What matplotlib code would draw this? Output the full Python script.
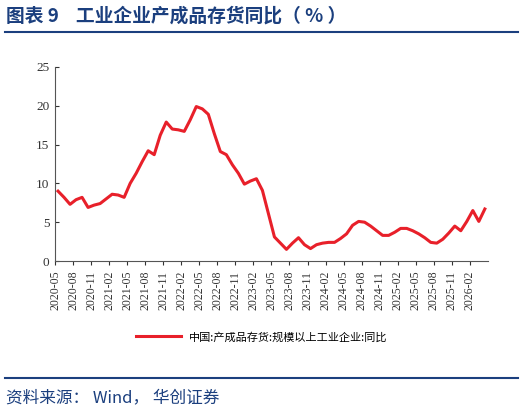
import matplotlib.pyplot as plt
import numpy as np

plt.rcParams['font.family'] = ['Noto Sans CJK SC', 'DejaVu Sans']

# 中国:产成品存货:规模以上工业企业:同比, monthly from 2020-05
values = [9.0, 8.2, 7.3, 7.9, 8.2, 6.9, 7.2, 7.4, 8.0, 8.6, 8.5, 8.2,
          10.0, 11.3, 12.8, 14.2, 13.7, 16.2, 17.9, 17.0, 16.9, 16.7, 18.2, 19.9,
          19.6, 18.9, 16.4, 14.1, 13.7, 12.4, 11.3, 9.9, 10.3, 10.6, 9.1, 6.1,
          3.1, 2.3, 1.5, 2.3, 3.0, 2.1, 1.6, 2.1, 2.3, 2.4, 2.4, 2.9,
          3.5, 4.6, 5.1, 5.0, 4.5, 3.9, 3.3, 3.3, 3.7, 4.2, 4.2, 3.9,
          3.5, 3.0, 2.4, 2.3, 2.8, 3.6, 4.5, 3.9, 5.1, 6.5, 5.1, 6.7]
months = [f"{2020 + (4 + i) // 12}-{(4 + i) % 12 + 1:02d}" for i in range(len(values))]

blue = '#1b3f7e'
fig = plt.figure(figsize=(5.24, 4.12), dpi=100)
ax = fig.add_axes([0.105, 0.3665, 0.826, 0.471])
x = np.arange(len(values))
line, = ax.plot(x, values, color='#e8202a', lw=2.2, label='中国:产成品存货:规模以上工业企业:同比')

ax.set_xlim(-0.5, len(values) - 0.5)
ax.set_ylim(0, 25)
ax.set_yticks(range(0, 26, 5))
ticks = x[::3]
ax.set_xticks(ticks - 0.5)
ax.set_xticklabels([months[i] for i in ticks], rotation=90, fontsize=8.5,
                   family=['Liberation Serif'])
for lab in ax.get_yticklabels():
    lab.set_fontsize(9.5)
    lab.set_family(['Liberation Serif'])
ax.tick_params(direction='in', length=3, colors='#333333', pad=4)
ax.tick_params(axis='x', direction='out')
for s in ['top', 'right']:
    ax.spines[s].set_visible(False)
for s in ['left', 'bottom']:
    ax.spines[s].set_color('#555555')

fig.legend(handles=[line], loc='center', bbox_to_anchor=(0.5, 0.182), frameon=False,
           fontsize=8, handlelength=4)

fig.text(0.012, 0.962, '图表 9    工业企业产成品存货同比（ % ）', color=blue, fontsize=13.5,
         fontweight='bold', va='center')
fig.add_artist(plt.Line2D([0.01, 0.988], [0.922, 0.922], color=blue, lw=1.5))
fig.add_artist(plt.Line2D([0.01, 0.988], [0.083, 0.083], color=blue, lw=1.5))
fig.text(0.012, 0.035, '资料来源： Wind， 华创证券', color=blue, fontsize=12,
         style='italic', va='center')

fig.savefig('out.png', dpi=100)
